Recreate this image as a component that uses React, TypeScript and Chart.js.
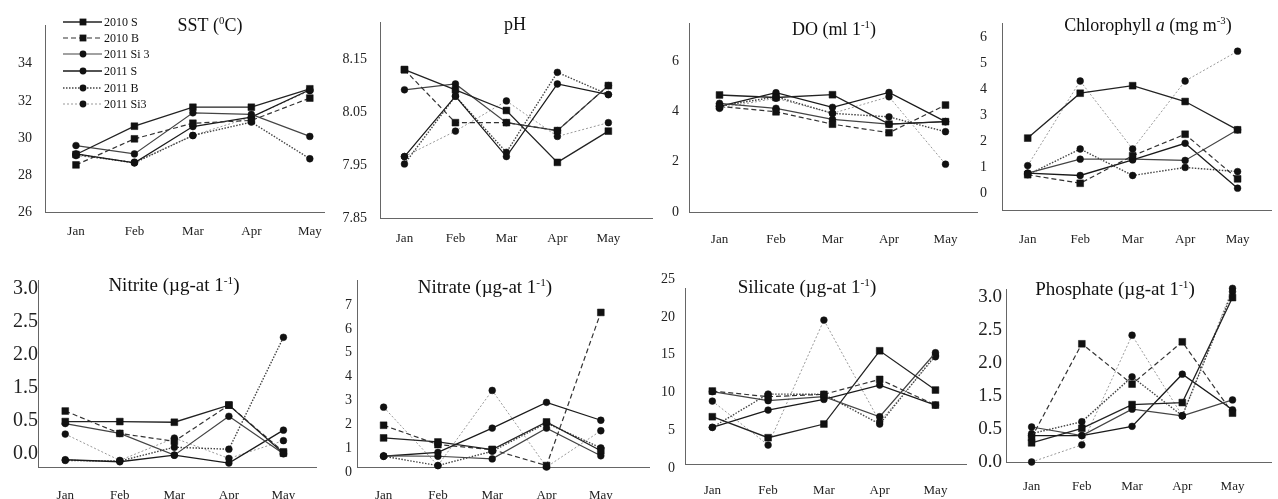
import React, { useEffect, useRef } from 'react';
import { Chart, registerables } from 'chart.js';
Chart.register(...registerables);

const months = ['Jan', 'Feb', 'Mar', 'Apr', 'May'];
const seriesNames = ['2010 S', '2010 B', '2011 Si 3', '2011 S', '2011 B', '2011 Si3'];

// each panel: rows follow seriesNames order, columns follow months
const sstValues = [
  [29.12, 30.64, 31.66, 31.66, 32.65],
  [28.56, 29.96, 30.8, 30.95, 32.15],
  [29.6, 29.15, 31.36, 31.27, 30.09],
  [29.15, 28.67, 30.62, 31.13, 32.6],
  [29.12, 28.67, 30.14, 30.86, 28.89],
  [29.06, 28.71, 30.14, 31.13, 32.55],
];
const phValues = [
  [8.13, 8.092, 8.053, 7.955, 8.014],
  [8.13, 8.03, 8.03, 8.015, 8.1],
  [8.092, 8.103, 8.03, 8.015, 8.1],
  [7.966, 8.08, 7.966, 8.103, 8.083],
  [7.952, 8.08, 7.974, 8.125, 8.083],
  [7.966, 8.014, 8.071, 8.004, 8.03],
];
const doValues = [
  [4.65, 4.55, 4.66, 3.49, 3.59],
  [4.2, 3.98, 3.49, 3.15, 4.25],
  [4.32, 4.12, 3.68, 3.49, 3.59],
  [4.2, 4.74, 4.16, 4.75, 3.59],
  [4.2, 4.58, 3.92, 3.78, 3.19],
  [4.12, 4.52, 3.92, 4.58, 1.9],
];
const chlValues = [
  [2.12, 3.85, 4.14, 3.53, 2.44],
  [0.71, 0.38, 1.44, 2.27, 0.55],
  [0.77, 1.31, 1.31, 1.26, 2.44],
  [0.77, 0.68, 1.28, 1.92, 0.19],
  [0.71, 1.7, 0.68, 0.99, 0.83],
  [1.06, 4.32, 1.7, 4.32, 5.47],
];
const nitriteValues = [
  [0.99, 0.99, 0.98, 1.24, 0.51],
  [1.15, 0.81, 0.69, 1.24, 0.53],
  [0.96, 0.81, 0.48, 1.07, 0.5],
  [0.41, 0.38, 0.48, 0.36, 0.86],
  [0.4, 0.39, 0.6, 0.57, 2.27],
  [0.8, 0.4, 0.74, 0.43, 0.7],
];
const nitrateValues = [
  [1.22, 1.05, 0.73, 1.89, 0.68],
  [1.75, 0.94, 0.73, 0.06, 6.48],
  [0.47, 0.45, 0.34, 1.63, 0.47],
  [0.45, 0.61, 1.63, 2.71, 1.96],
  [0.45, 0.06, 0.66, 1.84, 0.8],
  [2.51, 0.06, 3.21, 0.0, 1.52],
];
const silicateValues = [
  [6.26, 3.48, 5.29, 14.99, 9.79],
  [9.66, 8.91, 9.22, 11.2, 7.8],
  [9.57, 8.38, 8.91, 6.26, 14.73],
  [4.85, 7.14, 8.55, 10.45, 7.8],
  [4.85, 9.26, 9.22, 5.29, 14.4],
  [8.33, 2.51, 19.05, 5.6, 14.2],
];
const phosphateValues = [
  [0.79, 1.01, 1.37, 1.4, 2.99],
  [0.87, 2.29, 1.68, 2.32, 1.24],
  [1.03, 0.9, 1.3, 1.2, 1.44],
  [0.9, 0.9, 1.04, 1.83, 1.29],
  [0.93, 1.11, 1.79, 1.2, 3.08],
  [0.5, 0.76, 2.42, 1.2, 3.13],
];

// tick values and their printed labels
const sstTicks = [26, 28, 30, 32, 34];
const sstTickLabels = ['26', '28', '30', '32', '34'];
const phTicks = [7.85, 7.95, 8.05, 8.15];
const phTickLabels = ['7.85', '7.95', '8.05', '8.15'];
const doTicks = [0, 2, 4, 6];
const doTickLabels = ['0', '2', '4', '6'];
const chlTicks = [0, 1, 2, 3, 4, 5, 6];
const chlTickLabels = ['0', '1', '2', '3', '4', '5', '6'];
const nitriteTicks = [0.5, 1.0, 1.5, 2.0, 2.5, 3.0];
const nitriteTickLabels = ['0.0', '0.5', '1.5', '2.0', '2.5', '3.0'];
const nitrateTicks = [0, 1, 2, 3, 4, 5, 6, 7];
const nitrateTickLabels = ['0', '1', '2', '3', '4', '5', '6', '7'];
const silicateTicks = [0, 5, 10, 15, 20, 25];
const silicateTickLabels = ['0', '5', '10', '15', '20', '25'];
const phosphateTicks = [0.5, 1.0, 1.5, 2.0, 2.5, 3.0];
const phosphateTickLabels = ['0.0', '0.5', '1.5', '2.0', '2.5', '3.0'];

const sstTitle = [{ t: 'SST (' }, { t: '0', sup: true }, { t: 'C)' }];
const phTitle = [{ t: 'pH' }];
const doTitle = [{ t: 'DO (ml 1' }, { t: '-1', sup: true }, { t: ')' }];
const chlTitle = [{ t: 'Chlorophyll ' }, { t: 'a', italic: true }, { t: ' (mg m' }, { t: '-3', sup: true }, { t: ')' }];
const nitriteTitle = [{ t: 'Nitrite (\u00b5g-at 1' }, { t: '-1', sup: true }, { t: ')' }];
const nitrateTitle = [{ t: 'Nitrate (\u00b5g-at 1' }, { t: '-1', sup: true }, { t: ')' }];
const silicateTitle = [{ t: 'Silicate (\u00b5g-at 1' }, { t: '-1', sup: true }, { t: ')' }];
const phosphateTitle = [{ t: 'Phosphate (\u00b5g-at 1' }, { t: '-1', sup: true }, { t: ')' }];

const FONT = '"Liberation Serif", "Times New Roman", serif';

const seriesStyles = [
  { color: '#222', dash: [], point: 'rect', r: 4.8, width: 1.3 },
  { color: '#333', dash: [5, 3], point: 'rect', r: 4.8, width: 1.2 },
  { color: '#444', dash: [], point: 'circle', r: 3.4, width: 1.2 },
  { color: '#1a1a1a', dash: [], point: 'circle', r: 3.4, width: 1.3 },
  { color: '#444', dash: [1.5, 1.5], point: 'circle', r: 3.4, width: 1.4 },
  { color: '#999', dash: [2, 2], point: 'circle', r: 3.4, width: 1 },
];

const panels = [
  { values: sstValues, ticks: sstTicks, labels: sstTickLabels, title: sstTitle, L: 0, T: 0, W: 333, H: 250, padTop: 25, yW: 45, xH: 37.5, xMin: -0.53, xMax: 4.25, yMin: 26, yMax: 36.08, yPad: 13, xPad: 11, yFont: 14, off: 0, tx: 210, ty: 31, ts: 18, legend: true },
  { values: phValues, ticks: phTicks, labels: phTickLabels, title: phTitle, L: 320, T: 0, W: 338, H: 250, padTop: 22, yW: 60, xH: 32, xMin: -0.48, xMax: 4.87, yMin: 7.85, yMax: 8.22, yPad: 13, xPad: 12.6, yFont: 14, off: 0, tx: 515, ty: 30, ts: 18 },
  { values: doValues, ticks: doTicks, labels: doTickLabels, title: doTitle, L: 640, T: 0, W: 343, H: 250, padTop: 23, yW: 49, xH: 38, xMin: -0.54, xMax: 4.57, yMin: 0, yMax: 7.51, yPad: 10, xPad: 19.6, yFont: 14, off: 0, tx: 834, ty: 35, ts: 18 },
  { values: chlValues, ticks: chlTicks, labels: chlTickLabels, title: chlTitle, L: 960, T: 0, W: 317, H: 250, padTop: 23, yW: 42, xH: 40, xMin: -0.49, xMax: 4.65, yMin: -0.65, yMax: 6.54, yPad: 15, xPad: 21.6, yFont: 14, off: 0, tx: 1148, ty: 31, ts: 18 },
  { values: nitriteValues, ticks: nitriteTicks, labels: nitriteTickLabels, title: nitriteTitle, L: 0, T: 250, W: 322, H: 249, padTop: 30, yW: 38, xH: 32, xMin: -0.5, xMax: 4.61, yMin: 0.3, yMax: 3.14, yPad: 0, xPad: 20.6, yFont: 20, off: 0, tx: 174, ty: 291, ts: 19 },
  { values: nitrateValues, ticks: nitrateTicks, labels: nitrateTickLabels, title: nitrateTitle, L: 320, T: 250, W: 335, H: 249, padTop: 30, yW: 37, xH: 32, xMin: -0.49, xMax: 4.9, yMin: 0, yMax: 7.84, yPad: 5, xPad: 20.6, yFont: 14, off: 5, tx: 485, ty: 293, ts: 19 },
  { values: silicateValues, ticks: silicateTicks, labels: silicateTickLabels, title: silicateTitle, L: 640, T: 250, W: 332, H: 249, padTop: 38, yW: 45, xH: 35, xMin: -0.49, xMax: 4.56, yMin: 0, yMax: 23.3, yPad: 10, xPad: 18.6, yFont: 14, off: 4, tx: 807, ty: 293, ts: 19 },
  { values: phosphateValues, ticks: phosphateTicks, labels: phosphateTickLabels, title: phosphateTitle, L: 960, T: 250, W: 317, H: 249, padTop: 39, yW: 46, xH: 37, xMin: -0.51, xMax: 4.78, yMin: 0.5, yMax: 3.12, yPad: 4, xPad: 16.6, yFont: 19, off: 0, tx: 1115, ty: 295, ts: 19 },
];

const titlePlugin = {
  id: 'panelTitle',
  afterDraw(chart: any, _args: any, opts: any) {
    if (!opts || !opts.segments) return;
    const ctx = chart.ctx;
    const size = opts.size;
    ctx.save();
    let total = 0;
    const parts = opts.segments.map((s: any) => {
      const fs = s.sup ? size * 0.6 : size;
      const font = `${s.italic ? 'italic ' : ''}${fs}px ${FONT}`;
      ctx.font = font;
      const w = ctx.measureText(s.t).width;
      total += w;
      return { ...s, font, w };
    });
    let x = opts.x - total / 2;
    ctx.fillStyle = '#111';
    ctx.textAlign = 'left';
    ctx.textBaseline = 'alphabetic';
    for (const p of parts) {
      ctx.font = p.font;
      ctx.fillText(p.t, x, opts.y - (p.sup ? size * 0.38 : 0));
      x += p.w;
    }
    ctx.restore();
  },
};

const legendPlugin = {
  id: 'panelLegend',
  afterDraw(chart: any, _args: any, opts: any) {
    if (!opts || !opts.show) return;
    const ctx = chart.ctx;
    ctx.save();
    chart.data.datasets.forEach((ds: any, i: number) => {
      const y = opts.rows[i];
      ctx.strokeStyle = ds.borderColor;
      ctx.lineWidth = ds.borderWidth;
      ctx.setLineDash(ds.borderDash || []);
      ctx.beginPath();
      ctx.moveTo(opts.x0, y);
      ctx.lineTo(opts.x1, y);
      ctx.stroke();
      ctx.setLineDash([]);
      ctx.fillStyle = '#111';
      if (ds.pointStyle === 'rect') {
        const s = ds.pointRadius * Math.SQRT1_2;
        ctx.fillRect(opts.xm - s, y - s, 2 * s, 2 * s);
      } else {
        ctx.beginPath();
        ctx.arc(opts.xm, y, ds.pointRadius, 0, Math.PI * 2);
        ctx.fill();
      }
      ctx.font = `12px ${FONT}`;
      ctx.textAlign = 'left';
      ctx.textBaseline = 'middle';
      ctx.fillStyle = '#111';
      ctx.fillText(ds.label, opts.xt, y + 0.5);
    });
    ctx.restore();
  },
};

function buildConfig(p: any): any {
  return {
    type: 'line',
    data: {
      datasets: p.values.map((vals: number[], i: number) => {
        const st = seriesStyles[i];
        return {
          label: seriesNames[i],
          data: vals.map((v, j) => ({ x: j, y: v })),
          borderColor: st.color,
          borderWidth: st.width,
          borderDash: st.dash,
          pointStyle: st.point,
          pointRadius: st.r,
          pointBackgroundColor: '#111',
          pointBorderColor: '#111',
          pointBorderWidth: 0.5,
          fill: false,
          tension: 0,
          clip: false,
        };
      }),
    },
    options: {
      responsive: false,
      animation: false,
      events: [],
      layout: { padding: { top: p.padTop, left: 0, right: 0, bottom: 0 } },
      plugins: {
        legend: { display: false },
        tooltip: { enabled: false },
        panelTitle: { segments: p.title, x: p.tx - p.L, y: p.ty - p.T, size: p.ts },
        panelLegend: {
          show: !!p.legend,
          x0: 63 - p.L, x1: 102 - p.L, xm: 83 - p.L, xt: 104 - p.L,
          rows: [22, 38, 54, 71, 88, 104].map((r) => r - p.T),
        },
      },
      scales: {
        x: {
          type: 'linear',
          min: p.xMin,
          max: p.xMax,
          grid: { display: false, drawTicks: false },
          border: { display: true, color: '#666', width: 1 },
          ticks: {
            font: { family: FONT, size: 13 },
            color: '#222',
            padding: p.xPad,
            maxRotation: 0,
            autoSkip: false,
            callback: (v: number) => months[v],
          },
          afterBuildTicks: (s: any) => {
            s.ticks = months.map((_m, i) => ({ value: i }));
          },
          afterFit: (s: any) => {
            s.height = p.xH;
          },
        },
        y: {
          type: 'linear',
          min: p.yMin,
          max: p.yMax,
          grid: { display: false, drawTicks: false },
          border: { display: true, color: '#666', width: 1 },
          ticks: {
            font: { family: FONT, size: p.yFont },
            color: '#222',
            padding: p.yPad,
            labelOffset: p.off,
            callback: (_v: number, idx: number) => p.labels[idx],
          },
          afterBuildTicks: (s: any) => {
            s.ticks = p.ticks.map((v: number) => ({ value: v }));
          },
          afterFit: (s: any) => {
            s.width = p.yW;
          },
        },
      },
    },
    plugins: [titlePlugin, legendPlugin],
  };
}

function Panel({ p }: { p: any }) {
  const ref = useRef<HTMLCanvasElement | null>(null);
  useEffect(() => {
    if (!ref.current) return;
    const chart = new Chart(ref.current, buildConfig(p));
    return () => chart.destroy();
  }, [p]);
  return (
    <canvas
      ref={ref}
      width={p.W}
      height={p.H}
      style={{ position: 'absolute', left: p.L, top: p.T, width: p.W, height: p.H }}
    />
  );
}

export default function App() {
  return (
    <div style={{ position: 'absolute', left: 0, top: 0, width: 1278, height: 499, background: '#fff', overflow: 'hidden' }}>
      {panels.map((p, i) => (
        <Panel key={i} p={p} />
      ))}
    </div>
  );
}
